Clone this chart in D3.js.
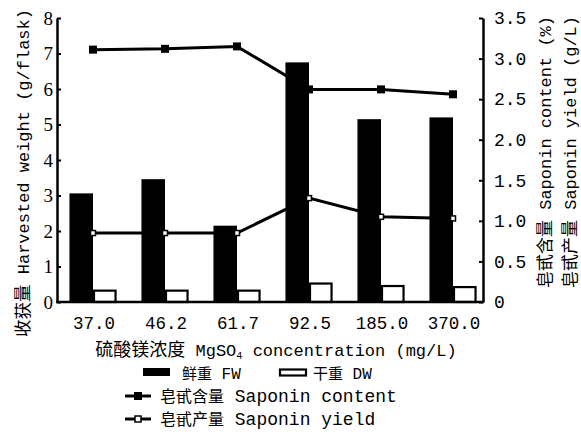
<!DOCTYPE html>
<html><head><meta charset="utf-8">
<script src="https://cdn.jsdelivr.net/npm/d3@7/dist/d3.min.js"></script>
<style>
body{margin:0;background:#fff;}
text{fill:#000;}
</style></head>
<body><svg id="c" width="581" height="432"></svg>
<script>
const categories = ["37.0","46.2","61.7","92.5","185.0","370.0"];
const freshWeight = [3.06,3.46,2.15,6.75,5.15,5.2];
const dryWeight = [0.32,0.32,0.32,0.52,0.45,0.42];
const saponinContent = [3.11,3.12,3.15,2.62,2.62,2.56];
const saponinYield = [0.85,0.85,0.85,1.28,1.05,1.03];
const leftTicks = [0,1,2,3,4,5,6,7,8];
const rightTicks = [0,0.5,1.0,1.5,2.0,2.5,3.0,3.5];

const CJK = "Noto Sans CJK SC";
const MONO = "Liberation Mono";
const svg = d3.select("#c");

const L = 57, R = 483, B = 302, T = 18;
const x = d3.scaleBand().domain(categories).range([L, L + 72*6]).padding(0);
const yL = d3.scaleLinear().domain([0,8]).range([B,T]);
const yR = d3.scaleLinear().domain([0,3.5]).range([B,T]);
const cx = d => x(d) + x.bandwidth()/2;
const bw = x.bandwidth()*0.327;

function mixed(sel, str, cjkSize, latSize){
  const parts = str.match(/[\u3000-\u9fff]+|[^\u3000-\u9fff]+/g);
  parts.forEach(p=>{
    const isC = /[\u3000-\u9fff]/.test(p);
    if (!isC && p.includes("₄")) {
      const [a,b] = p.split("₄");
      sel.append("tspan").attr("font-family",MONO).attr("font-size",latSize).text(a);
      sel.append("tspan").attr("font-family",MONO).attr("font-size",latSize*0.6).attr("dy",3).text("4");
      sel.append("tspan").attr("font-family",MONO).attr("font-size",latSize).attr("dy",-3).text(b);
    } else {
      sel.append("tspan").attr("font-family",isC?CJK:MONO).attr("font-size",isC?cjkSize:latSize).text(p);
    }
  });
  return sel;
}

const g = svg.append("g");
g.selectAll(".fw").data(categories).join("rect")
  .attr("x", (d)=>cx(d)-bw).attr("width", bw)
  .attr("y", (d,i)=>yL(freshWeight[i])).attr("height",(d,i)=>B-yL(freshWeight[i]))
  .attr("fill","#000");
g.selectAll(".dw").data(categories).join("rect")
  .attr("x", (d)=>cx(d)+1).attr("width", bw-2)
  .attr("y", (d,i)=>yL(dryWeight[i])).attr("height",(d,i)=>B-yL(dryWeight[i]))
  .attr("fill","#fff").attr("stroke","#000").attr("stroke-width",2.2);

const lineC = d3.line().x((d,i)=>cx(categories[i])).y(d=>yR(d));
g.append("path").datum(saponinContent).attr("d",lineC).attr("fill","none").attr("stroke","#000").attr("stroke-width",3);
g.append("path").datum(saponinYield).attr("d",lineC).attr("fill","none").attr("stroke","#000").attr("stroke-width",3);
g.selectAll(".mc").data(saponinContent).join("rect")
  .attr("x",(d,i)=>cx(categories[i])-4).attr("y",d=>yR(d)-4).attr("width",8).attr("height",8).attr("fill","#000");
g.selectAll(".my").data(saponinYield).join("rect")
  .attr("x",(d,i)=>cx(categories[i])-2.5).attr("y",d=>yR(d)-2.5).attr("width",5).attr("height",5)
  .attr("fill","#fff").attr("stroke","#000").attr("stroke-width",1.5);

const axL = d3.axisLeft(yL).tickValues(leftTicks).tickSizeInner(-4).tickSizeOuter(0).tickPadding(4).tickFormat(d3.format("d"));
const gl = svg.append("g").attr("transform",`translate(${L},0)`).call(axL);
gl.selectAll("text").attr("font-family","Liberation Serif").attr("font-size",19).attr("fill","#000");
const axR = d3.axisRight(yR).tickValues(rightTicks).tickSizeInner(-4).tickSizeOuter(0).tickPadding(11)
  .tickFormat(d=> d===0 ? "0" : d3.format(".1f")(d));
const gr = svg.append("g").attr("transform",`translate(${R},0)`).call(axR);
gr.selectAll("text").attr("font-family",MONO).attr("font-size",18).attr("fill","#000");
[gl,gr].forEach(a=>{
  a.select(".domain").attr("stroke","#000").attr("stroke-width",2.5);
  a.selectAll(".tick line").attr("stroke","#000").attr("stroke-width",2);
});
svg.append("line").attr("x1",L-1).attr("x2",R+1).attr("y1",B).attr("y2",B).attr("stroke","#000").attr("stroke-width",2.5);

svg.append("g").selectAll("text").data(categories).join("text")
  .attr("x",d=>cx(d)+1).attr("y",329).attr("text-anchor","middle")
  .attr("font-family",MONO).attr("font-size",17.5).text(d=>d);

mixed(svg.append("text").attr("x",276).attr("y",356).attr("text-anchor","middle"),
  "硫酸镁浓度 MgSO₄ concentration (mg/L)", 18, 17);
mixed(svg.append("text").attr("transform","translate(29,173) rotate(-90)").attr("text-anchor","middle"),
  "收获量 Harvested weight (g/flask)", 17.5, 17);
mixed(svg.append("text").attr("transform","translate(551,152) rotate(-90)").attr("text-anchor","middle"),
  "皂甙含量 Saponin content (%)", 17, 17);
mixed(svg.append("text").attr("transform","translate(576,152) rotate(-90)").attr("text-anchor","middle"),
  "皂甙产量 Saponin yield (g/L)", 17, 17);

const lg = svg.append("g");
lg.append("rect").attr("x",143).attr("y",368).attr("width",27).attr("height",8).attr("fill","#000");
mixed(lg.append("text").attr("x",182).attr("y",379), "鲜重 FW", 15, 16);
lg.append("rect").attr("x",280).attr("y",369.5).attr("width",26).attr("height",6).attr("fill","#fff").attr("stroke","#000").attr("stroke-width",2.2);
mixed(lg.append("text").attr("x",313).attr("y",379), "干重 DW", 15, 16);
lg.append("line").attr("x1",125).attr("x2",151).attr("y1",396).attr("y2",396).attr("stroke","#000").attr("stroke-width",3);
lg.append("rect").attr("x",134).attr("y",392).attr("width",8).attr("height",8).attr("fill","#000");
mixed(lg.append("text").attr("x",160).attr("y",402), "皂甙含量 Saponin content", 16, 18);
lg.append("line").attr("x1",125).attr("x2",151).attr("y1",419).attr("y2",419).attr("stroke","#000").attr("stroke-width",3);
lg.append("rect").attr("x",135).attr("y",416).attr("width",6).attr("height",6).attr("fill","#fff").attr("stroke","#000").attr("stroke-width",1.5);
mixed(lg.append("text").attr("x",160).attr("y",425), "皂甙产量 Saponin yield", 16, 18);
</script></body></html>
